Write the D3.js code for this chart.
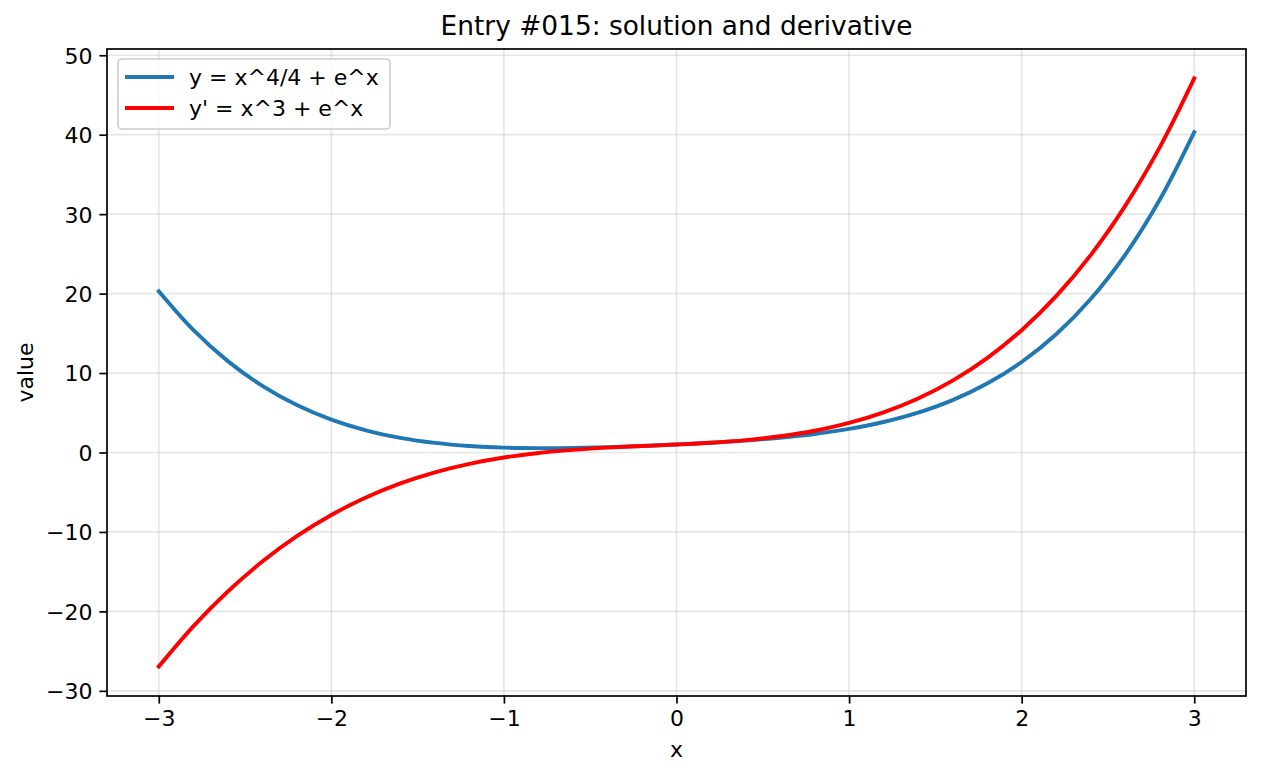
<!DOCTYPE html>
<html>
<head>
<meta charset="utf-8">
<script src="https://cdn.jsdelivr.net/npm/d3@7"></script>
<style>
  html, body { margin: 0; padding: 0; background: #fff; }
  svg { display: block; font-family: "DejaVu Sans", sans-serif; }
</style>
</head>
<body>
<svg id="chart" width="1261" height="776"></svg>
<script>
// ---- data ----
const xValues = [-3.0,-2.8,-2.6,-2.4,-2.2,-2.0,-1.8,-1.6,-1.4,-1.2,-1.0,-0.8,-0.6,-0.4,-0.2,0.0,
                 0.2,0.4,0.6,0.8,1.0,1.2,1.4,1.6,1.8,2.0,2.2,2.4,2.6,2.8,3.0];
const solutionValues = [20.30,15.43,11.50,8.385,5.967,4.135,2.790,1.840,1.207,0.820,0.618,0.552,0.581,0.677,0.819,1.000,
                        1.222,1.498,1.855,2.328,2.968,3.839,5.016,6.591,8.674,11.389,14.881,19.318,24.888,31.811,40.336];
const derivativeValues = [-26.950,-21.891,-17.502,-13.733,-10.537,-7.865,-5.667,-3.894,-2.497,-1.427,-0.632,-0.063,0.333,0.606,0.811,1.000,
                          1.229,1.556,2.038,2.738,3.718,5.048,6.799,9.049,11.882,15.389,19.673,24.847,31.040,38.397,47.086];
const seriesNames = ["y = x^4/4 + e^x", "y' = x^3 + e^x"];
const seriesColors = ["#1f77b4", "#ff0000"];
const xTicks = [-3,-2,-1,0,1,2,3];
const yTicks = [-30,-20,-10,0,10,20,30,40,50];
const titleText = "Entry #015: solution and derivative";
const xLabel = "x";
const yLabel = "value";

// ---- layout ----
const W = 1261, H = 776;
const plot = { left: 107, right: 1246, top: 49, bottom: 696 };
const FS = 22, TITLE_FS = 26.4, LW = 3.9;

const svg = d3.select("#chart");

function padded(ext) { const r = ext[1]-ext[0]; return [ext[0]-0.05*r, ext[1]+0.05*r]; }
const xDom = padded(d3.extent(xValues));
const allY = solutionValues.concat(derivativeValues);
const yDom = padded(d3.extent(allY));

const x = d3.scaleLinear().domain(xDom).range([plot.left, plot.right]);
const y = d3.scaleLinear().domain(yDom).range([plot.bottom, plot.top]);

// grid
const grid = svg.append("g").attr("class", "grid");
grid.selectAll("line.gx").data(xTicks).enter().append("line")
  .attr("x1", d => x(d)).attr("x2", d => x(d))
  .attr("y1", plot.top).attr("y2", plot.bottom)
  .attr("stroke", "#b0b0b0").attr("stroke-opacity", 0.32).attr("stroke-width", 1.7);
grid.selectAll("line.gy").data(yTicks).enter().append("line")
  .attr("y1", d => y(d)).attr("y2", d => y(d))
  .attr("x1", plot.left).attr("x2", plot.right)
  .attr("stroke", "#b0b0b0").attr("stroke-opacity", 0.32).attr("stroke-width", 1.7);

// lines
const series = [solutionValues, derivativeValues];
const line = d3.line().x((d, i) => x(xValues[i])).y(d => y(d)).curve(d3.curveCatmullRom.alpha(0.5));
series.forEach((vals, k) => {
  svg.append("path").datum(vals)
    .attr("d", line)
    .attr("fill", "none")
    .attr("stroke", seriesColors[k])
    .attr("stroke-width", LW)
    .attr("stroke-linejoin", "round")
    .attr("stroke-linecap", "square");
});

// axes
const xAxis = d3.axisBottom(x).tickValues(xTicks).tickSize(7.6).tickPadding(7)
  .tickFormat(d => d < 0 ? "\u2212" + Math.abs(d) : String(d));
const yAxis = d3.axisLeft(y).tickValues(yTicks).tickSize(7.6).tickPadding(7)
  .tickFormat(d => d < 0 ? "\u2212" + Math.abs(d) : String(d));

const gx = svg.append("g").attr("transform", `translate(0,${plot.bottom})`).call(xAxis);
const gy = svg.append("g").attr("transform", `translate(${plot.left},0)`).call(yAxis);
[gx, gy].forEach(g => {
  g.select(".domain").remove();
  g.selectAll(".tick line").attr("stroke", "#000").attr("stroke-width", 1.7);
  g.selectAll(".tick text").attr("fill", "#000").attr("font-size", FS)
    .attr("font-family", "DejaVu Sans");
});
gy.selectAll(".tick text").attr("dy", "0.36em");

// spines
svg.append("rect")
  .attr("x", plot.left).attr("y", plot.top)
  .attr("width", plot.right - plot.left).attr("height", plot.bottom - plot.top)
  .attr("fill", "none").attr("stroke", "#000").attr("stroke-width", 1.7);

// title & labels
svg.append("text").attr("x", (plot.left + plot.right) / 2).attr("y", 35)
  .attr("text-anchor", "middle").attr("font-size", TITLE_FS).attr("fill", "#000").text(titleText);
svg.append("text").attr("x", (plot.left + plot.right) / 2).attr("y", 757)
  .attr("text-anchor", "middle").attr("font-size", FS).attr("fill", "#000").text(xLabel);
svg.append("text")
  .attr("transform", `translate(33,${(plot.top + plot.bottom) / 2}) rotate(-90)`)
  .attr("text-anchor", "middle").attr("font-size", FS).attr("fill", "#000").text(yLabel);

// legend
const lg = svg.append("g");
lg.append("rect").attr("x", 118).attr("y", 59).attr("width", 272).attr("height", 70)
  .attr("rx", 4).attr("ry", 4)
  .attr("fill", "#fff").attr("fill-opacity", 0.8)
  .attr("stroke", "#cccccc").attr("stroke-width", 1.6);
seriesNames.forEach((name, k) => {
  const cy = 77 + k * 31;
  lg.append("line").attr("x1", 125).attr("x2", 174).attr("y1", cy).attr("y2", cy)
    .attr("stroke", seriesColors[k]).attr("stroke-width", LW);
  lg.append("text").attr("x", 189).attr("y", cy).attr("dy", "0.36em")
    .attr("font-size", FS).attr("fill", "#000").text(name);
});
</script>
</body>
</html>
